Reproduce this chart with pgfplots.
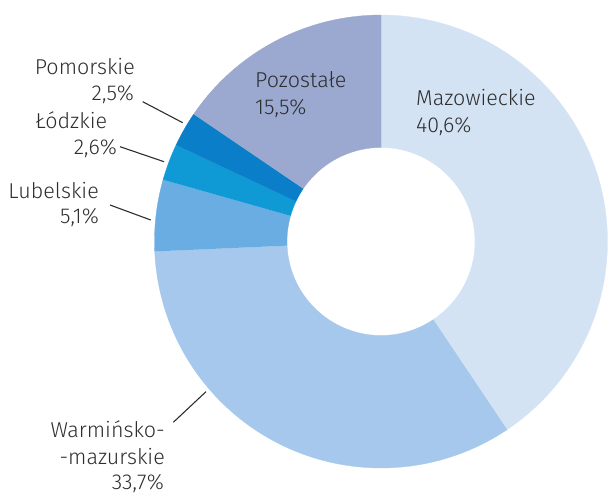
\documentclass[border=0pt]{standalone}
\usepackage{pgfplots}
\pgfplotsset{compat=1.18}
\usepackage{fontspec}
\setmainfont{Fira Sans}[UprightFont=* Light]
\definecolor{cMaz}{HTML}{D3E3F4}
\definecolor{cWar}{HTML}{A5C8EC}
\definecolor{cLub}{HTML}{69ADE3}
\definecolor{cLod}{HTML}{0F9AD6}
\definecolor{cPom}{HTML}{0A7EC8}
\definecolor{cPoz}{HTML}{9BA8CF}
\definecolor{txt}{HTML}{2E2E2E}
% annular sector: colour, cumulative start %, cumulative end % (clockwise from top)
\newcommand{\sector}[3]{%
  \addplot[fill=#1, draw=#1, line width=0.3pt, data cs=polar, variable=\t, domain=0:2, samples=241]
    ({\t<1.001 ? 90-3.6*(#2+(#3-#2)*\t) : 90-3.6*(#3-(#3-#2)*max(\t-1-1/120,0)*120/119)},
     {\t<1.001 ? 226.5 : 94});}
\begin{document}
\begin{tikzpicture}[lbl/.style={font=\fontsize{21.5}{27}\selectfont, text=txt, inner sep=0pt}]
\begin{axis}[
  width=608pt, height=496pt, scale only axis,
  xmin=-381, xmax=227, ymin=-254.5, ymax=241.5,
  axis line style={draw=none}, ticks=none,
  clip=false,
]
% shares (%): Mazowieckie 40.6, Warminsko-mazurskie 33.7, Lubelskie 5.1, Lodzkie 2.6, Pomorskie 2.5, Pozostale 15.5
\sector{cMaz}{0}{40.6}
\sector{cWar}{40.6}{74.3}
\sector{cLub}{74.3}{79.4}
\sector{cLod}{79.4}{82.0}
\sector{cPom}{82.0}{84.5}
\sector{cPoz}{84.5}{100}
% leader lines
\addplot[txt, line width=1.1pt] coordinates {(-238.3,139.8) (-198.3,118.8)};
\addplot[txt, line width=1.1pt] coordinates {(-261,94.8) (-217,79.8)};
\addplot[txt, line width=1.1pt] coordinates {(-271,36.5) (-230.3,21.5)};
\addplot[txt, line width=1.1pt] coordinates {(-207.7,-180.8) (-175,-150.2)};
% labels
\node[lbl, anchor=base west] at (axis cs:-126,153.5) {Pozostałe};
\node[lbl, anchor=base west] at (axis cs:-126,126.5) {15,5\%};
\node[lbl, anchor=base west] at (axis cs:35,135.5) {Mazowieckie};
\node[lbl, anchor=base west] at (axis cs:35,108.5) {40,6\%};
\node[lbl, anchor=base east] at (axis cs:-246,167.2) {Pomorskie};
\node[lbl, anchor=base east] at (axis cs:-247,140.5) {2,5\%};
\node[lbl, anchor=base east] at (axis cs:-273.7,113.2) {Łódzkie};
\node[lbl, anchor=base east] at (axis cs:-264,86.5) {2,6\%};
\node[lbl, anchor=base east] at (axis cs:-282,43.2) {Lubelskie};
\node[lbl, anchor=base east] at (axis cs:-282,18.2) {5,1\%};
\node[lbl, anchor=base east] at (axis cs:-216,-195.5) {Warmińsko-};
\node[lbl, anchor=base east] at (axis cs:-216,-222.5) {-mazurskie};
\node[lbl, anchor=base east] at (axis cs:-217,-248) {33,7\%};
\end{axis}
\end{tikzpicture}
\end{document}
